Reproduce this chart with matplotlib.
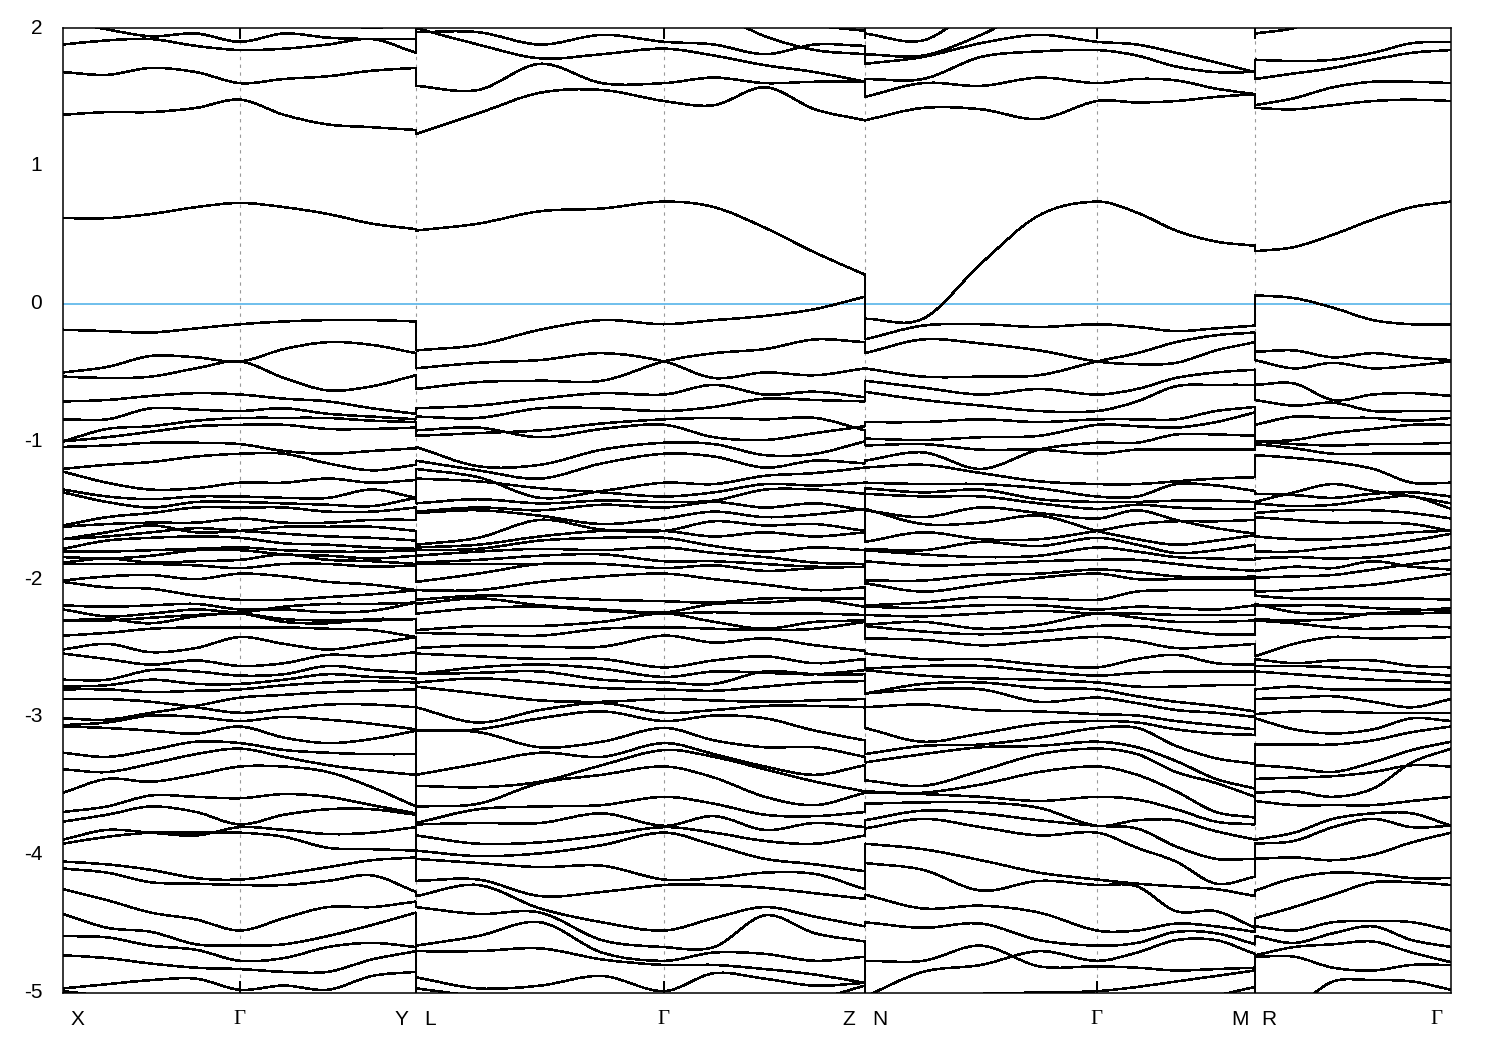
import matplotlib
matplotlib.use("Agg")
import matplotlib.pyplot as plt
from matplotlib.patches import PathPatch
from matplotlib.path import Path
from matplotlib.transforms import ScaledTranslation

# k-path positions of the read-off samples in every panel
k_xy = [0, 44, 88, 133, 177, 221, 265, 309, 353]
k_lz = [353, 415, 477, 539, 601, 651, 702, 752, 802]
k_nm = [802, 860, 918, 976, 1034, 1074, 1113, 1153, 1192]
k_rg = [1192, 1231, 1270, 1310, 1349, 1388]

nodes = [177, 353, 601, 802, 1034, 1192]
labels = ["X", "Γ", "Y", "L", "Γ", "Z", "N", "Γ", "M", "R", "Γ"]
label_pos = [0, 177, 353, 353, 601, 802, 802, 1034, 1192, 1192, 1388]
label_off = [14, -1, -15, 14, -1, -16, 15, -1, -15, 14, -15]

yvals = [2, 1, 0, -1, -2, -3, -4, -5]
ylabels = ["2", "1", "0", "-1", "-2", "-3", "-4", "-5"]

# X - Gamma - Y
bands_xy = [
    [2.2, 2.2, 2.2, 2.2, 2.2, 2.2, 2.2, 2.2, 2.2],
    [2.1, 2.1, 2.1, 2.1, 2.1, 2.1, 2.05, 2.0, 2.05],
    [2.05, 1.99, 1.94, 1.96, 1.90, 1.96, 1.93, 1.92, 1.92],
    [1.88, 1.91, 1.92, 1.87, 1.84, 1.85, 1.88, 1.92, 1.82],
    [1.68, 1.66, 1.71, 1.68, 1.60, 1.63, 1.65, 1.69, 1.71],
    [1.37, 1.39, 1.39, 1.42, 1.48, 1.37, 1.30, 1.28, 1.26],
    [0.62, 0.62, 0.65, 0.70, 0.73, 0.70, 0.65, 0.58, 0.54],
    [-0.19, -0.20, -0.21, -0.18, -0.15, -0.13, -0.12, -0.12, -0.13],
    [-0.50, -0.46, -0.38, -0.39, -0.42, -0.33, -0.28, -0.30, -0.36],
    [-0.53, -0.54, -0.53, -0.47, -0.42, -0.54, -0.63, -0.60, -0.52],
    [-0.71, -0.70, -0.67, -0.65, -0.66, -0.69, -0.71, -0.76, -0.80],
    [-0.84, -0.84, -0.76, -0.77, -0.78, -0.76, -0.80, -0.82, -0.84],
    [-1.00, -0.91, -0.89, -0.85, -0.83, -0.83, -0.83, -0.85, -0.86],
    [-1.00, -0.97, -0.93, -0.89, -0.88, -0.88, -0.91, -0.91, -0.90],
    [-1.04, -1.03, -1.01, -1.01, -1.02, -1.07, -1.09, -1.07, -1.05],
    [-1.20, -1.17, -1.15, -1.11, -1.09, -1.09, -1.16, -1.21, -1.17],
    [-1.22, -1.30, -1.35, -1.34, -1.30, -1.30, -1.27, -1.30, -1.28],
    [-1.35, -1.40, -1.42, -1.40, -1.40, -1.41, -1.41, -1.35, -1.41],
    [-1.37, -1.44, -1.48, -1.44, -1.44, -1.45, -1.46, -1.47, -1.41],
    [-1.61, -1.55, -1.52, -1.48, -1.48, -1.48, -1.51, -1.51, -1.48],
    [-1.62, -1.60, -1.59, -1.59, -1.56, -1.59, -1.59, -1.57, -1.57],
    [-1.71, -1.66, -1.61, -1.66, -1.65, -1.62, -1.62, -1.62, -1.65],
    [-1.71, -1.69, -1.66, -1.63, -1.65, -1.67, -1.69, -1.70, -1.72],
    [-1.78, -1.72, -1.70, -1.69, -1.70, -1.74, -1.75, -1.77, -1.78],
    [-1.80, -1.80, -1.79, -1.78, -1.77, -1.79, -1.80, -1.80, -1.79],
    [-1.84, -1.85, -1.83, -1.79, -1.79, -1.82, -1.83, -1.85, -1.83],
    [-1.88, -1.85, -1.88, -1.87, -1.86, -1.82, -1.86, -1.87, -1.89],
    [-1.89, -1.89, -1.89, -1.90, -1.92, -1.89, -1.89, -1.91, -1.90],
    [-2.01, -1.98, -1.97, -2.00, -1.96, -1.98, -2.02, -2.04, -2.08],
    [-2.02, -2.06, -2.07, -2.12, -2.15, -2.15, -2.13, -2.11, -2.08],
    [-2.19, -2.20, -2.19, -2.18, -2.22, -2.22, -2.24, -2.23, -2.17],
    [-2.22, -2.27, -2.25, -2.22, -2.24, -2.20, -2.18, -2.18, -2.17],
    [-2.30, -2.29, -2.32, -2.27, -2.25, -2.31, -2.32, -2.29, -2.29],
    [-2.30, -2.30, -2.28, -2.26, -2.25, -2.29, -2.30, -2.30, -2.29],
    [-2.41, -2.39, -2.36, -2.35, -2.35, -2.35, -2.36, -2.37, -2.42],
    [-2.51, -2.47, -2.53, -2.50, -2.42, -2.47, -2.51, -2.47, -2.42],
    [-2.54, -2.58, -2.62, -2.59, -2.63, -2.61, -2.55, -2.56, -2.53],
    [-2.73, -2.73, -2.66, -2.67, -2.70, -2.69, -2.63, -2.66, -2.68],
    [-2.78, -2.77, -2.73, -2.76, -2.76, -2.73, -2.69, -2.71, -2.72],
    [-2.80, -2.80, -2.82, -2.81, -2.80, -2.77, -2.75, -2.74, -2.75],
    [-2.87, -2.87, -2.89, -2.93, -2.97, -2.94, -2.91, -2.91, -2.93],
    [-3.01, -3.02, -2.97, -2.92, -2.86, -2.84, -2.82, -2.81, -2.80],
    [-3.06, -3.04, -2.99, -3.00, -3.03, -3.00, -3.02, -3.05, -3.09],
    [-3.07, -3.08, -3.10, -3.12, -3.07, -3.15, -3.19, -3.16, -3.10],
    [-3.26, -3.29, -3.24, -3.18, -3.19, -3.24, -3.26, -3.27, -3.27],
    [-3.38, -3.40, -3.34, -3.27, -3.23, -3.29, -3.35, -3.39, -3.42],
    [-3.55, -3.45, -3.47, -3.42, -3.36, -3.36, -3.40, -3.51, -3.65],
    [-3.69, -3.65, -3.57, -3.58, -3.59, -3.56, -3.58, -3.64, -3.70],
    [-3.76, -3.71, -3.65, -3.69, -3.78, -3.71, -3.67, -3.67, -3.71],
    [-3.89, -3.82, -3.84, -3.86, -3.80, -3.82, -3.85, -3.84, -3.80],
    [-3.92, -3.87, -3.84, -3.84, -3.84, -3.87, -3.95, -3.96, -3.97],
    [-4.05, -4.07, -4.11, -4.17, -4.18, -4.14, -4.09, -4.04, -4.02],
    [-4.10, -4.13, -4.20, -4.21, -4.22, -4.22, -4.19, -4.15, -4.27],
    [-4.25, -4.33, -4.42, -4.47, -4.55, -4.46, -4.38, -4.38, -4.34],
    [-4.43, -4.53, -4.56, -4.65, -4.66, -4.65, -4.59, -4.51, -4.42],
    [-4.59, -4.60, -4.66, -4.69, -4.77, -4.75, -4.67, -4.64, -4.67],
    [-4.73, -4.75, -4.79, -4.82, -4.83, -4.85, -4.85, -4.76, -4.70],
    [-4.97, -4.94, -4.91, -4.90, -4.98, -4.95, -4.98, -4.88, -4.85],
    [-4.99, -5.03, -5.10, -5.10, -5.10, -5.10, -5.10, -5.10, -5.02],
]

# L - Gamma - Z
bands_lz = [
    [2.10, 2.10, 2.10, 2.10, 2.10, 2.10, 1.94, 1.84, 1.81],
    [2.10, 2.10, 2.10, 2.10, 2.10, 2.10, 2.10, 2.02, 1.98],
    [2.00, 1.88, 1.78, 1.81, 1.85, 1.80, 1.73, 1.68, 1.61],
    [1.97, 1.97, 1.88, 1.95, 1.90, 1.88, 1.81, 1.88, 1.87],
    [1.58, 1.55, 1.74, 1.60, 1.60, 1.64, 1.60, 1.61, 1.61],
    [1.23, 1.38, 1.53, 1.55, 1.47, 1.44, 1.57, 1.41, 1.33],
    [0.53, 0.58, 0.67, 0.69, 0.74, 0.70, 0.55, 0.37, 0.21],
    [-0.34, -0.30, -0.19, -0.12, -0.15, -0.12, -0.09, -0.04, 0.05],
    [-0.47, -0.43, -0.41, -0.36, -0.42, -0.54, -0.50, -0.52, -0.47],
    [-0.62, -0.57, -0.56, -0.56, -0.42, -0.36, -0.33, -0.26, -0.28],
    [-0.76, -0.74, -0.69, -0.65, -0.66, -0.59, -0.66, -0.64, -0.68],
    [-0.82, -0.83, -0.76, -0.76, -0.78, -0.75, -0.69, -0.70, -0.71],
    [-0.92, -0.90, -0.97, -0.91, -0.88, -0.97, -0.99, -0.94, -0.89],
    [-0.96, -0.94, -0.92, -0.87, -0.84, -0.83, -0.84, -0.83, -0.92],
    [-1.04, -1.18, -1.17, -1.06, -1.01, -1.02, -1.10, -1.09, -1.00],
    [-1.14, -1.21, -1.27, -1.16, -1.09, -1.11, -1.19, -1.14, -1.16],
    [-1.20, -1.26, -1.41, -1.36, -1.30, -1.31, -1.25, -1.23, -1.19],
    [-1.27, -1.29, -1.34, -1.37, -1.40, -1.37, -1.31, -1.32, -1.30],
    [-1.45, -1.42, -1.45, -1.43, -1.44, -1.43, -1.35, -1.35, -1.38],
    [-1.51, -1.48, -1.50, -1.46, -1.48, -1.44, -1.48, -1.45, -1.50],
    [-1.52, -1.50, -1.54, -1.60, -1.56, -1.51, -1.55, -1.53, -1.49],
    [-1.75, -1.70, -1.57, -1.64, -1.65, -1.58, -1.61, -1.60, -1.65],
    [-1.77, -1.75, -1.69, -1.65, -1.65, -1.69, -1.66, -1.69, -1.66],
    [-1.79, -1.78, -1.72, -1.70, -1.70, -1.76, -1.80, -1.77, -1.79],
    [-1.83, -1.80, -1.78, -1.79, -1.77, -1.81, -1.84, -1.88, -1.89],
    [-1.88, -1.86, -1.83, -1.82, -1.87, -1.87, -1.89, -1.91, -1.91],
    [-1.89, -1.89, -1.89, -1.89, -1.92, -1.90, -1.94, -1.92, -1.91],
    [-2.02, -1.96, -1.89, -1.89, -1.92, -1.90, -1.94, -1.92, -1.91],
    [-2.08, -2.08, -2.02, -1.98, -1.96, -2.00, -2.04, -2.08, -2.06],
    [-2.15, -2.12, -2.13, -2.15, -2.16, -2.17, -2.14, -2.14, -2.14],
    [-2.18, -2.14, -2.19, -2.22, -2.24, -2.18, -2.17, -2.15, -2.20],
    [-2.25, -2.21, -2.20, -2.23, -2.25, -2.24, -2.25, -2.25, -2.26],
    [-2.37, -2.34, -2.34, -2.31, -2.25, -2.31, -2.36, -2.31, -2.30],
    [-2.39, -2.40, -2.41, -2.36, -2.35, -2.36, -2.37, -2.36, -2.31],
    [-2.50, -2.48, -2.49, -2.49, -2.41, -2.46, -2.43, -2.48, -2.52],
    [-2.54, -2.56, -2.58, -2.58, -2.64, -2.59, -2.56, -2.61, -2.58],
    [-2.69, -2.64, -2.62, -2.65, -2.71, -2.67, -2.68, -2.69, -2.66],
    [-2.69, -2.68, -2.67, -2.73, -2.75, -2.76, -2.67, -2.69, -2.69],
    [-2.75, -2.72, -2.75, -2.79, -2.80, -2.81, -2.78, -2.75, -2.74],
    [-2.78, -2.83, -2.88, -2.89, -2.87, -2.88, -2.89, -2.88, -2.87],
    [-2.93, -3.04, -2.95, -2.90, -2.97, -2.95, -2.92, -2.92, -2.93],
    [-3.10, -3.11, -3.22, -3.18, -3.08, -3.17, -3.22, -3.22, -3.29],
    [-3.10, -3.09, -3.01, -2.96, -3.03, -2.99, -3.01, -3.10, -3.17],
    [-3.42, -3.34, -3.26, -3.29, -3.19, -3.27, -3.36, -3.42, -3.35],
    [-3.50, -3.51, -3.47, -3.35, -3.24, -3.29, -3.38, -3.47, -3.54],
    [-3.65, -3.63, -3.48, -3.42, -3.36, -3.44, -3.58, -3.64, -3.55],
    [-3.77, -3.67, -3.65, -3.64, -3.58, -3.63, -3.71, -3.72, -3.69],
    [-3.78, -3.77, -3.77, -3.70, -3.79, -3.72, -3.82, -3.77, -3.80],
    [-3.86, -3.92, -3.91, -3.86, -3.80, -3.84, -3.90, -3.92, -3.86],
    [-3.97, -4.01, -3.99, -3.93, -3.84, -3.93, -4.03, -4.07, -4.12],
    [-4.03, -4.06, -4.09, -4.08, -4.18, -4.17, -4.13, -4.14, -4.25],
    [-4.19, -4.18, -4.30, -4.27, -4.22, -4.22, -4.24, -4.28, -4.32],
    [-4.30, -4.22, -4.39, -4.49, -4.55, -4.46, -4.38, -4.45, -4.52],
    [-4.38, -4.43, -4.42, -4.62, -4.67, -4.67, -4.44, -4.57, -4.63],
    [-4.66, -4.59, -4.49, -4.71, -4.77, -4.71, -4.72, -4.77, -4.74],
    [-4.70, -4.70, -4.68, -4.76, -4.80, -4.80, -4.83, -4.87, -4.93],
    [-4.89, -4.97, -4.95, -4.88, -4.99, -4.86, -4.90, -4.95, -4.93],
    [-4.97, -5.03, -5.10, -5.10, -5.10, -5.10, -5.10, -5.05, -4.95],
]

# N - Gamma - M
bands_nm = [
    [1.96, 1.91, 2.15, 2.20, 2.20, 2.20, 2.20, 2.20, 2.20],
    [1.81, 1.80, 1.95, 2.15, 2.15, 2.15, 2.10, 2.10, 2.10],
    [1.74, 1.79, 1.89, 1.95, 1.90, 1.88, 1.82, 1.75, 1.68],
    [1.63, 1.63, 1.79, 1.83, 1.84, 1.80, 1.72, 1.68, 1.68],
    [1.50, 1.60, 1.58, 1.64, 1.60, 1.63, 1.62, 1.56, 1.52],
    [1.33, 1.42, 1.41, 1.34, 1.47, 1.46, 1.47, 1.50, 1.52],
    [-0.11, -0.11, 0.29, 0.64, 0.74, 0.66, 0.53, 0.45, 0.42],
    [-0.26, -0.16, -0.15, -0.17, -0.15, -0.17, -0.20, -0.18, -0.16],
    [-0.36, -0.26, -0.29, -0.34, -0.42, -0.44, -0.43, -0.34, -0.28],
    [-0.47, -0.53, -0.53, -0.52, -0.42, -0.36, -0.28, -0.23, -0.21],
    [-0.56, -0.61, -0.66, -0.62, -0.66, -0.62, -0.54, -0.50, -0.48],
    [-0.64, -0.70, -0.74, -0.78, -0.78, -0.71, -0.60, -0.59, -0.59],
    [-0.86, -0.86, -0.84, -0.86, -0.84, -0.84, -0.84, -0.78, -0.75],
    [-0.98, -0.99, -0.97, -0.96, -0.88, -0.89, -0.90, -0.86, -0.79],
    [-1.03, -1.02, -1.06, -1.06, -1.09, -1.06, -1.06, -1.06, -1.06],
    [-1.14, -1.08, -1.20, -1.06, -1.01, -1.01, -0.95, -0.95, -0.96],
    [-1.19, -1.17, -1.23, -1.29, -1.31, -1.31, -1.29, -1.27, -1.26],
    [-1.30, -1.31, -1.31, -1.34, -1.40, -1.40, -1.31, -1.32, -1.36],
    [-1.34, -1.37, -1.35, -1.42, -1.44, -1.44, -1.43, -1.43, -1.44],
    [-1.38, -1.40, -1.40, -1.45, -1.49, -1.46, -1.48, -1.49, -1.49],
    [-1.50, -1.55, -1.48, -1.52, -1.56, -1.50, -1.57, -1.63, -1.67],
    [-1.49, -1.60, -1.59, -1.54, -1.65, -1.71, -1.75, -1.72, -1.68],
    [-1.73, -1.66, -1.71, -1.71, -1.65, -1.60, -1.58, -1.58, -1.57],
    [-1.78, -1.79, -1.73, -1.76, -1.70, -1.75, -1.81, -1.79, -1.75],
    [-1.79, -1.82, -1.84, -1.83, -1.77, -1.80, -1.84, -1.85, -1.86],
    [-1.87, -1.90, -1.89, -1.87, -1.86, -1.86, -1.89, -1.92, -1.94],
    [-2.01, -2.01, -1.97, -1.96, -1.93, -1.95, -1.98, -1.99, -1.98],
    [-2.03, -2.09, -2.04, -1.99, -1.96, -2.00, -2.00, -2.00, -2.00],
    [-2.19, -2.17, -2.13, -2.14, -2.15, -2.09, -2.08, -2.08, -2.08],
    [-2.20, -2.21, -2.19, -2.19, -2.22, -2.20, -2.21, -2.22, -2.19],
    [-2.26, -2.27, -2.25, -2.23, -2.25, -2.25, -2.26, -2.26, -2.26],
    [-2.33, -2.31, -2.36, -2.33, -2.25, -2.28, -2.31, -2.31, -2.30],
    [-2.34, -2.38, -2.40, -2.38, -2.34, -2.34, -2.37, -2.40, -2.40],
    [-2.43, -2.44, -2.48, -2.45, -2.42, -2.45, -2.50, -2.49, -2.47],
    [-2.54, -2.58, -2.58, -2.62, -2.64, -2.58, -2.55, -2.61, -2.62],
    [-2.65, -2.63, -2.63, -2.67, -2.70, -2.68, -2.67, -2.67, -2.67],
    [-2.66, -2.70, -2.72, -2.73, -2.75, -2.78, -2.78, -2.77, -2.77],
    [-2.83, -2.76, -2.75, -2.79, -2.80, -2.85, -2.89, -2.92, -2.96],
    [-2.83, -2.80, -2.80, -2.89, -2.86, -2.90, -2.95, -2.97, -3.00],
    [-2.93, -2.91, -2.95, -2.96, -2.98, -2.99, -3.03, -3.06, -3.09],
    [-3.08, -3.18, -3.12, -3.05, -3.03, -3.04, -3.09, -3.12, -3.13],
    [-3.27, -3.21, -3.20, -3.15, -3.08, -3.08, -3.21, -3.30, -3.34],
    [-3.33, -3.27, -3.22, -3.21, -3.18, -3.22, -3.32, -3.45, -3.52],
    [-3.46, -3.50, -3.39, -3.27, -3.23, -3.27, -3.40, -3.48, -3.58],
    [-3.55, -3.55, -3.49, -3.40, -3.36, -3.42, -3.54, -3.69, -3.73],
    [-3.54, -3.56, -3.58, -3.61, -3.58, -3.60, -3.67, -3.76, -3.78],
    [-3.63, -3.62, -3.62, -3.66, -3.79, -3.75, -3.75, -3.83, -3.89],
    [-3.75, -3.68, -3.70, -3.75, -3.79, -3.81, -3.94, -4.03, -4.03],
    [-3.81, -3.74, -3.80, -3.86, -3.84, -3.95, -4.05, -4.21, -4.16],
    [-3.92, -3.96, -4.04, -4.13, -4.18, -4.21, -4.23, -4.25, -4.30],
    [-4.06, -4.11, -4.26, -4.19, -4.22, -4.23, -4.41, -4.41, -4.53],
    [-4.29, -4.39, -4.37, -4.42, -4.55, -4.55, -4.50, -4.52, -4.56],
    [-4.49, -4.53, -4.50, -4.62, -4.66, -4.64, -4.56, -4.57, -4.65],
    [-4.77, -4.77, -4.66, -4.81, -4.81, -4.82, -4.84, -4.83, -4.82],
    [-5.03, -4.85, -4.80, -4.70, -4.77, -4.71, -4.62, -4.62, -4.72],
    [-5.10, -5.05, -5.01, -5.00, -4.99, -4.96, -4.92, -4.88, -4.84],
    [-5.10, -5.10, -5.10, -5.10, -5.10, -5.10, -5.05, -5.02, -4.96],
]

# R - Gamma
bands_rg = [
    [2.10, 2.15, 2.15, 2.15, 2.15, 2.15],
    [1.96, 2.00, 2.10, 2.10, 2.10, 2.10],
    [1.77, 1.76, 1.77, 1.82, 1.89, 1.90],
    [1.63, 1.67, 1.71, 1.77, 1.82, 1.84],
    [1.44, 1.49, 1.57, 1.61, 1.61, 1.60],
    [1.42, 1.41, 1.44, 1.47, 1.48, 1.47],
    [0.38, 0.41, 0.50, 0.61, 0.70, 0.74],
    [0.06, 0.04, -0.03, -0.12, -0.15, -0.15],
    [-0.35, -0.34, -0.39, -0.36, -0.39, -0.41],
    [-0.41, -0.47, -0.43, -0.47, -0.45, -0.42],
    [-0.59, -0.58, -0.70, -0.66, -0.65, -0.67],
    [-0.70, -0.74, -0.72, -0.78, -0.78, -0.78],
    [-0.88, -0.82, -0.83, -0.83, -0.85, -0.83],
    [-1.00, -0.99, -0.94, -0.91, -0.88, -0.88],
    [-1.00, -1.02, -1.03, -1.02, -1.02, -1.01],
    [-1.02, -1.05, -1.09, -1.09, -1.09, -1.09],
    [-1.10, -1.12, -1.15, -1.20, -1.30, -1.30],
    [-1.38, -1.39, -1.41, -1.38, -1.37, -1.40],
    [-1.44, -1.37, -1.31, -1.36, -1.40, -1.45],
    [-1.45, -1.47, -1.46, -1.42, -1.40, -1.49],
    [-1.52, -1.50, -1.50, -1.50, -1.52, -1.56],
    [-1.55, -1.57, -1.59, -1.59, -1.60, -1.65],
    [-1.69, -1.71, -1.71, -1.69, -1.66, -1.65],
    [-1.80, -1.80, -1.77, -1.75, -1.72, -1.67],
    [-1.85, -1.84, -1.85, -1.84, -1.81, -1.77],
    [-1.94, -1.91, -1.92, -1.87, -1.91, -1.93],
    [-1.99, -1.98, -1.97, -1.93, -1.89, -1.86],
    [-2.09, -2.08, -2.06, -2.04, -2.00, -1.96],
    [-2.12, -2.14, -2.14, -2.14, -2.14, -2.15],
    [-2.18, -2.24, -2.25, -2.25, -2.23, -2.21],
    [-2.19, -2.19, -2.19, -2.21, -2.22, -2.23],
    [-2.29, -2.30, -2.29, -2.25, -2.25, -2.24],
    [-2.30, -2.32, -2.35, -2.36, -2.34, -2.35],
    [-2.56, -2.47, -2.42, -2.43, -2.43, -2.42],
    [-2.58, -2.61, -2.59, -2.59, -2.63, -2.64],
    [-2.63, -2.63, -2.64, -2.66, -2.68, -2.70],
    [-2.67, -2.69, -2.71, -2.73, -2.74, -2.75],
    [-2.80, -2.78, -2.80, -2.80, -2.80, -2.80],
    [-2.87, -2.86, -2.85, -2.89, -2.93, -2.87],
    [-2.98, -2.96, -2.96, -2.97, -2.97, -2.97],
    [-3.01, -3.09, -3.12, -3.09, -3.01, -3.03],
    [-3.20, -3.20, -3.20, -3.17, -3.11, -3.07],
    [-3.35, -3.37, -3.40, -3.33, -3.24, -3.18],
    [-3.45, -3.44, -3.43, -3.40, -3.35, -3.36],
    [-3.55, -3.54, -3.58, -3.52, -3.33, -3.23],
    [-3.61, -3.64, -3.64, -3.64, -3.61, -3.58],
    [-3.89, -3.84, -3.74, -3.70, -3.70, -3.79],
    [-3.92, -3.90, -3.80, -3.74, -3.80, -3.79],
    [-4.03, -4.02, -4.04, -4.00, -3.91, -3.84],
    [-4.26, -4.17, -4.13, -4.14, -4.17, -4.17],
    [-4.46, -4.38, -4.29, -4.20, -4.20, -4.22],
    [-4.52, -4.55, -4.49, -4.48, -4.49, -4.55],
    [-4.59, -4.64, -4.57, -4.52, -4.62, -4.67],
    [-4.73, -4.67, -4.65, -4.63, -4.71, -4.78],
    [-4.74, -4.74, -4.82, -4.84, -4.80, -4.80],
    [-5.10, -5.10, -4.92, -4.91, -4.92, -4.98],
]

panels = [(k_xy, bands_xy), (k_lz, bands_lz), (k_nm, bands_nm), (k_rg, bands_rg)]


# bezier through the read-off samples, so the bands do not look like polygons
def band_path(k, y):
    n = len(k)
    verts = [(k[0], y[0])]
    codes = [Path.MOVETO]
    for i in range(n - 1):
        a = max(i - 1, 0)
        b = min(i + 2, n - 1)
        m0 = (y[i + 1] - y[a]) / (k[i + 1] - k[a])
        m1 = (y[b] - y[i]) / (k[b] - k[i])
        h = k[i + 1] - k[i]
        verts.append((k[i] + h / 3, y[i] + m0 * h / 3))
        verts.append((k[i + 1] - h / 3, y[i + 1] - m1 * h / 3))
        verts.append((k[i + 1], y[i + 1]))
        codes += [Path.CURVE4] * 3
    return Path(verts, codes)


fig = plt.figure(figsize=(15, 10.5), dpi=100)
ax = fig.add_axes([63 / 1500, 1 - 992.5 / 1050, 1388 / 1500, 964.5 / 1050])

line_w = 1.1

for n in nodes:
    ax.axvline(n, color="#999999", lw=0.8, ls=(0, (3, 4)), zorder=1)

ax.axhline(0, color="#56b4e9", lw=1.2, zorder=2)

for k, bands in panels:
    for band in bands:
        ax.add_patch(PathPatch(band_path(k, band), fill=False, edgecolor="black",
                               lw=line_w, antialiased=False, zorder=3))

# the bands run on across a jump in the path, nth band to nth band
for i in range(len(panels) - 1):
    k_left, left = panels[i]
    k_right, right = panels[i + 1]
    ends = sorted([b[-1] for b in left], reverse=True)
    starts = sorted([b[0] for b in right], reverse=True)
    for a, b in zip(ends, starts):
        ax.plot([k_left[-1], k_left[-1]], [a, b], color="black", lw=line_w,
                antialiased=False, zorder=3)

ax.set_xlim(0, 1388)
ax.set_ylim(-5, 2)

ax.set_yticks(yvals)
ax.set_yticklabels(ylabels, fontsize=15, family="Liberation Sans")
ax.tick_params(axis="y", length=0, pad=15)
for lbl in ax.get_yticklabels():
    lbl.set_transform(lbl.get_transform() + ScaledTranslation(0, 2 / 100, fig.dpi_scale_trans))

ax.set_xticks(nodes)
ax.set_xticklabels([])
ax.tick_params(axis="x", length=0)
for n in nodes:
    ax.plot([n, n], [-5, -4.925], color="black", lw=1.1, antialiased=False, zorder=4)
    ax.plot([n, n], [2, 1.925], color="black", lw=1.1, antialiased=False, zorder=4)

for name, pos, off in zip(labels, label_pos, label_off):
    fam = "Liberation Serif" if name == "Γ" else "Liberation Sans"
    ax.annotate(name, (pos, 0), xycoords=("data", "axes fraction"),
                xytext=(off, -27), textcoords="offset pixels",
                ha="center", va="center", fontsize=15, family=fam)

for s in ax.spines.values():
    s.set_linewidth(1.1)
    s.set_zorder(5)

fig.savefig("out.png", dpi=100)
